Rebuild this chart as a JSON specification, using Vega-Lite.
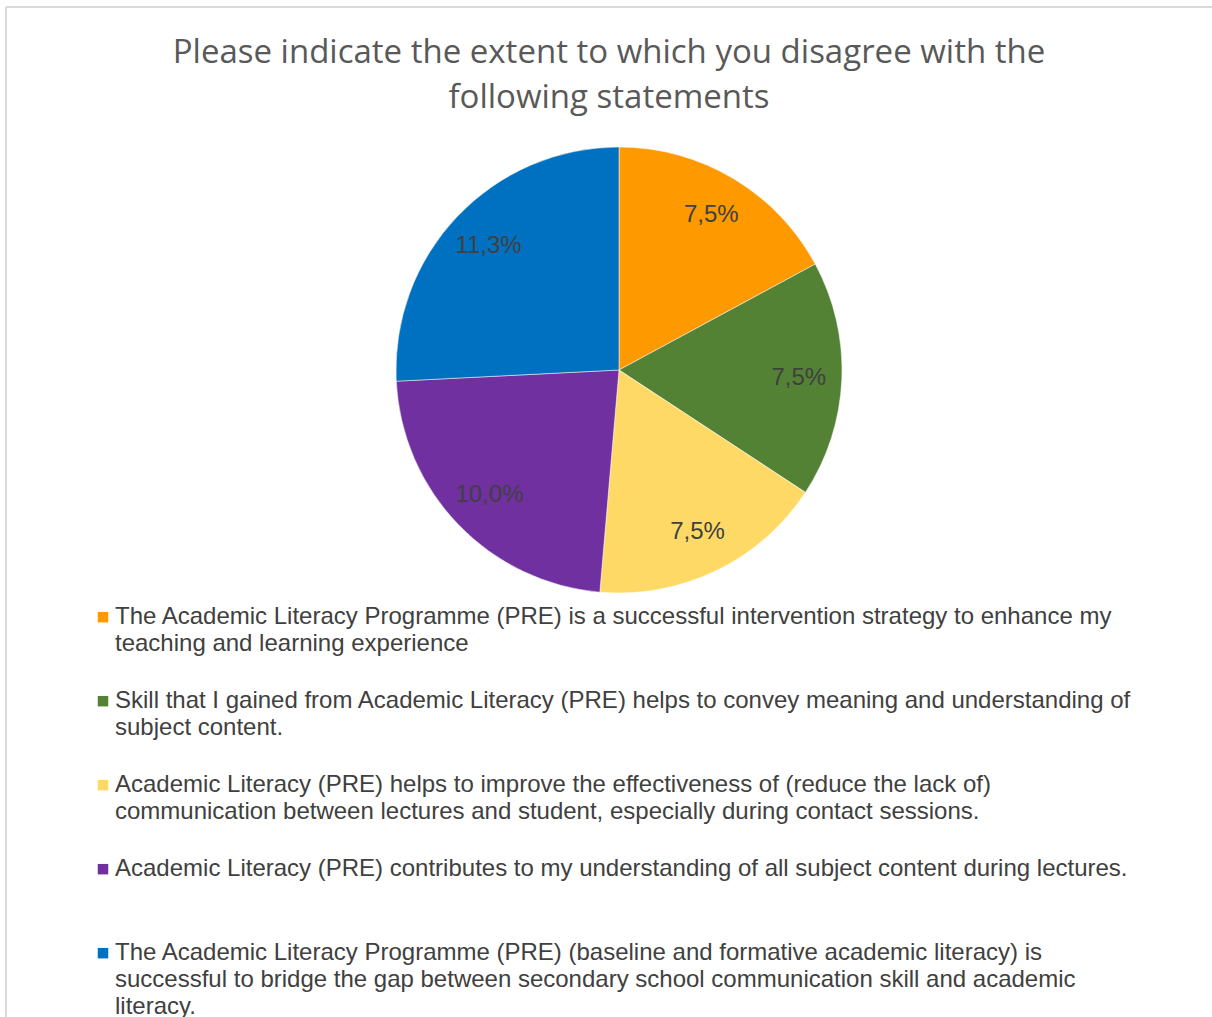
{
  "$schema": "https://vega.github.io/schema/vega-lite/v6.json",
  "width": 1206,
  "height": 1010,
  "autosize": "none",
  "padding": {"left": 6, "top": 7, "right": 0, "bottom": 0},
  "background": "white",
  "title": {
    "text": ["Please indicate the extent to which you disagree with the", "following statements"],
    "font": "Open Sans",
    "fontSize": 33,
    "fontWeight": "normal",
    "color": "#595959",
    "lineHeight": 45,
    "anchor": "middle",
    "offset": -109
  },
  "data": {
    "values": [
      {"statement": "The Academic Literacy Programme (PRE) is a successful intervention strategy to enhance my|teaching and learning experience", "share": 0.075, "idx": 1},
      {"statement": "Skill that I gained from Academic Literacy (PRE) helps to convey meaning and understanding of|subject content.", "share": 0.075, "idx": 2},
      {"statement": "Academic Literacy (PRE) helps to improve the effectiveness of (reduce the lack of)|communication between lectures and student, especially during contact sessions.", "share": 0.075, "idx": 3},
      {"statement": "Academic Literacy (PRE) contributes to my understanding of all subject content during lectures.", "share": 0.1, "idx": 4},
      {"statement": "The Academic Literacy Programme (PRE) (baseline and formative academic literacy) is|successful to bridge the gap between secondary school communication skill and academic|literacy.", "share": 0.113, "idx": 5}
    ]
  },
  "layer": [
    {
      "data": {"values": [{}]},
      "mark": {"type": "rect", "filled": false, "stroke": "#d9d9d9", "strokeWidth": 2, "strokeDash": [1206, 2216, 1010, 0]},
      "encoding": {}
    },
    {
      "mark": {"type": "arc", "outerRadius": 223, "x": 613, "y": 363, "stroke": "white", "strokeWidth": 0.5},
      "encoding": {
        "theta": {"field": "share", "type": "quantitative", "stack": true},
        "order": {"field": "idx", "type": "quantitative"},
        "color": {
          "field": "statement",
          "type": "nominal",
          "sort": {"field": "idx"},
          "scale": {"range": ["#FF9900", "#548235", "#FFD966", "#7030A0", "#0070C0"]},
          "legend": {
            "orient": "none",
            "legendX": 85,
            "legendY": 605,
            "title": null,
            "direction": "vertical",
            "columns": 1,
            "padding": 0,
            "symbolType": "M-1,-2.3H1V-0.3H-1Z",
            "symbolSize": 110,
            "symbolStrokeWidth": 0,
            "labelFont": "Liberation Sans",
            "labelFontSize": 24,
            "labelColor": "#404040",
            "labelLimit": 1150,
            "labelOffset": 0,
            "labelBaseline": "alphabetic",
            "rowPadding": 6,
            "labelExpr": "slice(split(datum.label + '||', '|'), 0, 3)"
          }
        }
      }
    },
    {
      "mark": {"type": "text", "radius": 180, "x": 613, "y": 363, "font": "Liberation Sans", "fontSize": 24, "fill": "#404040"},
      "encoding": {
        "theta": {"field": "share", "type": "quantitative", "stack": true},
        "order": {"field": "idx", "type": "quantitative"},
        "text": {"field": "share", "type": "quantitative", "format": ".1%"}
      }
    }
  ],
  "config": {
    "view": {"stroke": null},
    "locale": {"number": {"decimal": ",", "thousands": ".", "grouping": [3], "currency": ["", " €"]}},
    "style": {"guide-label": {"lineHeight": 27}}
  }
}
